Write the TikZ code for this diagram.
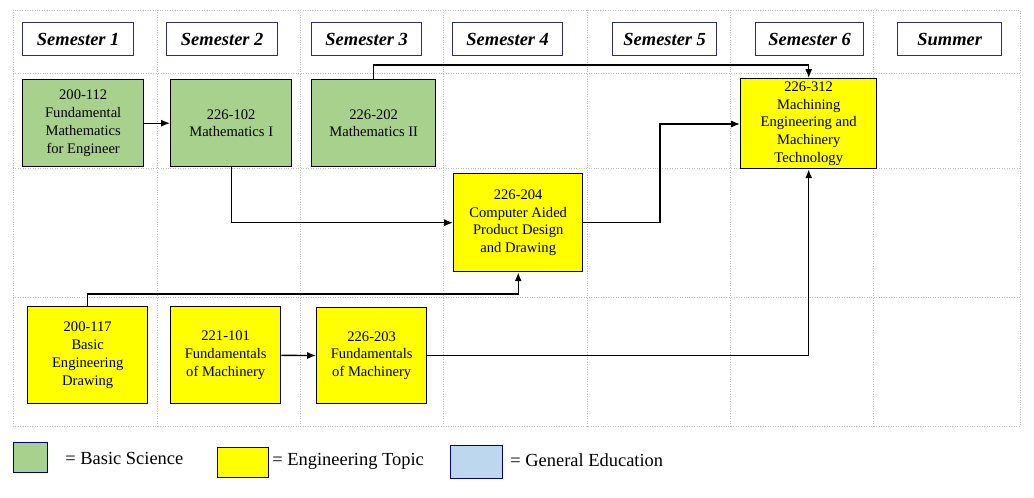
\documentclass[tikz,border=0pt]{standalone}
\usepackage{fontspec}
\setmainfont{Liberation Serif}
\newfontfamily\timesfont{Liberation Serif}
\usetikzlibrary{arrows.meta}
\definecolor{sciGreen}{RGB}{169,209,142}
\definecolor{engYellow}{RGB}{255,255,0}
\definecolor{genBlue}{RGB}{189,215,238}
\definecolor{hdrBlue}{RGB}{47,47,110}
\tikzset{
  semhead/.style={draw=hdrBlue,thick,fill=white,font=\timesfont\fontsize{10.5}{12}\selectfont\bfseries\itshape,anchor=north west,inner sep=0pt},
  course/.style={draw,thick,anchor=north west,inner sep=0pt,align=center,font=\timesfont\fontsize{8.3}{10.2}\selectfont},
  science/.style={course,fill=sciGreen},
  engtopic/.style={course,fill=engYellow},
  link/.style={-{Latex[length=5pt,width=4pt]},thick},
  legtext/.style={anchor=west,inner sep=0pt,font=\timesfont\fontsize{10.5}{12}\selectfont},
}
\begin{document}
\begin{tikzpicture}[x=0.02cm,y=-0.02cm]
    \useasboundingbox (0,0) rectangle (1034,497);
    % grid
    \draw[densely dotted,gray!50] (13,10) rectangle (1020,426);
    \foreach \gx in {157,300,443,587,730,873}
      \draw[densely dotted,gray!50] (\gx,10) -- (\gx,426);
    \foreach \gy in {73,168,297}
      \draw[densely dotted,gray!50] (13,\gy) -- (1020,\gy);
    % semester headers
    \node[semhead,minimum width=111*0.02cm,minimum height=33*0.02cm] (sem1) at (22,22) {Semester 1};
    \node[semhead,minimum width=111*0.02cm,minimum height=33*0.02cm] (sem2) at (166,22) {Semester 2};
    \node[semhead,minimum width=110*0.02cm,minimum height=33*0.02cm] (sem3) at (311,22) {Semester 3};
    \node[semhead,minimum width=110*0.02cm,minimum height=33*0.02cm] (sem4) at (452,22) {Semester 4};
    \node[semhead,minimum width=104*0.02cm,minimum height=33*0.02cm] (sem5) at (612,22) {Semester 5};
    \node[semhead,minimum width=108*0.02cm,minimum height=33*0.02cm] (sem6) at (755,22) {Semester 6};
    \node[semhead,minimum width=104*0.02cm,minimum height=33*0.02cm] (summer) at (897,22) {Summer};
    % courses
    \node[science,minimum width=121*0.02cm,minimum height=87*0.02cm] (fmath) at (22,79)
      {200-112\\Fundamental\\Mathematics\\for Engineer};
    \node[science,minimum width=121*0.02cm,minimum height=87*0.02cm] (mathI) at (170,79)
      {226-102\\Mathematics I};
    \node[science,minimum width=124*0.02cm,minimum height=87*0.02cm] (mathII) at (311,79)
      {226-202\\Mathematics II};
    \node[engtopic,minimum width=129*0.02cm,minimum height=98*0.02cm] (cad) at (453,173)
      {226-204\\Computer Aided\\Product Design\\and Drawing};
    \node[engtopic,minimum width=136*0.02cm,minimum height=90*0.02cm] (machining) at (740,78)
      {226-312\\Machining\\Engineering and\\Machinery\\Technology};
    \node[engtopic,minimum width=120*0.02cm,minimum height=97*0.02cm] (drawing) at (27,306)
      {200-117\\Basic\\Engineering\\Drawing};
    \node[engtopic,minimum width=110*0.02cm,minimum height=97*0.02cm] (machI) at (170,306)
      {221-101\\Fundamentals\\of Machinery};
    \node[engtopic,minimum width=110*0.02cm,minimum height=96*0.02cm] (machII) at (316,307)
      {226-203\\Fundamentals\\of Machinery};
    % connectors
    \draw[link] (fmath) -- (mathI);
    \draw[link] (mathI.south) |- (cad.west);
    \draw[link] (mathII.north) |- (808,65) -| (machining.north);
    \draw[link] (drawing.north) |- (517,294) -| (cad.south);
    \draw[link] (machI) -- (machII);
    \draw[link] (machII.east) -| (machining.south);
    \draw[link] (cad.east) -| (660,124) -- (machining.west |- 660,124);
    % legend
    \node[draw=blue!50!black,fill=sciGreen,anchor=north west,minimum width=34*0.02cm,minimum height=30*0.02cm] (legsci) at (13,442) {};
    \node[legtext] (legscit) at (65,458) {= Basic Science};
    \node[draw=blue!50!black,fill=engYellow,anchor=north west,minimum width=51*0.02cm,minimum height=30*0.02cm] (legeng) at (217,447) {};
    \node[legtext] (legengt) at (272,461) {= Engineering Topic};
    \node[draw=blue!50!black,fill=genBlue,anchor=north west,minimum width=52*0.02cm,minimum height=33*0.02cm] (leggen) at (450,445) {};
    \node[legtext] (leggent) at (510,460) {= General Education};
\end{tikzpicture}
\end{document}
